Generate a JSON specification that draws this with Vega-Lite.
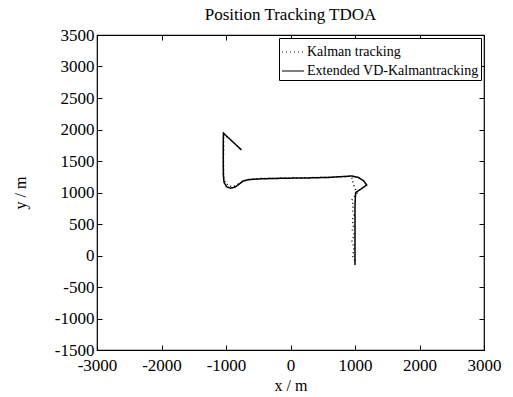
{
  "$schema": "https://vega.github.io/schema/vega-lite/v6.json",
  "autosize": {"type": "none"},
  "width": 387,
  "height": 315,
  "padding": {"left": 97, "top": 35, "right": 29, "bottom": 47},
  "background": "white",
  "config": {
    "font": "Liberation Serif",
    "view": {"stroke": "black", "strokeWidth": 1.2},
    "axis": {"grid": false, "domain": false, "tickColor": "black", "labelColor": "black", "titleColor": "black", "labelFont": "Liberation Serif", "titleFont": "Liberation Serif", "labelFontSize": 17, "titleFontSize": 16, "titleFontWeight": "normal", "tickSize": -5, "labelFlush": false, "labelExpr": "datum.value + ''"}
  },
  "title": {"text": "Position Tracking TDOA", "font": "Liberation Serif", "fontSize": 17, "fontWeight": "normal", "color": "black", "offset": 2},
  "data": {"values": [
    {"series": "Kalman  tracking", "o": 0, "x": -980, "y": 1880},
    {"series": "Kalman  tracking", "o": 1, "x": -1030, "y": 1930},
    {"series": "Kalman  tracking", "o": 2, "x": -1040, "y": 1850},
    {"series": "Kalman  tracking", "o": 3, "x": -1035, "y": 1700},
    {"series": "Kalman  tracking", "o": 4, "x": -1042, "y": 1550},
    {"series": "Kalman  tracking", "o": 5, "x": -1038, "y": 1400},
    {"series": "Kalman  tracking", "o": 6, "x": -1040, "y": 1300},
    {"series": "Kalman  tracking", "o": 7, "x": -1035, "y": 1210},
    {"series": "Kalman  tracking", "o": 8, "x": -1010, "y": 1150},
    {"series": "Kalman  tracking", "o": 9, "x": -950, "y": 1100},
    {"series": "Kalman  tracking", "o": 10, "x": -880, "y": 1095},
    {"series": "Kalman  tracking", "o": 11, "x": -800, "y": 1140},
    {"series": "Kalman  tracking", "o": 12, "x": -700, "y": 1190},
    {"series": "Kalman  tracking", "o": 13, "x": -600, "y": 1210},
    {"series": "Kalman  tracking", "o": 14, "x": -450, "y": 1225},
    {"series": "Kalman  tracking", "o": 15, "x": -300, "y": 1222},
    {"series": "Kalman  tracking", "o": 16, "x": -150, "y": 1230},
    {"series": "Kalman  tracking", "o": 17, "x": 0, "y": 1228},
    {"series": "Kalman  tracking", "o": 18, "x": 150, "y": 1232},
    {"series": "Kalman  tracking", "o": 19, "x": 300, "y": 1236},
    {"series": "Kalman  tracking", "o": 20, "x": 450, "y": 1238},
    {"series": "Kalman  tracking", "o": 21, "x": 600, "y": 1242},
    {"series": "Kalman  tracking", "o": 22, "x": 750, "y": 1250},
    {"series": "Kalman  tracking", "o": 23, "x": 850, "y": 1255},
    {"series": "Kalman  tracking", "o": 24, "x": 930, "y": 1260},
    {"series": "Kalman  tracking", "o": 25, "x": 960, "y": 1220},
    {"series": "Kalman  tracking", "o": 26, "x": 970, "y": 1150},
    {"series": "Kalman  tracking", "o": 27, "x": 990, "y": 1090},
    {"series": "Kalman  tracking", "o": 28, "x": 1030, "y": 990},
    {"series": "Kalman  tracking", "o": 29, "x": 950, "y": 880},
    {"series": "Kalman  tracking", "o": 30, "x": 975, "y": 800},
    {"series": "Kalman  tracking", "o": 31, "x": 960, "y": 720},
    {"series": "Kalman  tracking", "o": 32, "x": 985, "y": 640},
    {"series": "Kalman  tracking", "o": 33, "x": 955, "y": 560},
    {"series": "Kalman  tracking", "o": 34, "x": 980, "y": 480},
    {"series": "Kalman  tracking", "o": 35, "x": 960, "y": 400},
    {"series": "Kalman  tracking", "o": 36, "x": 990, "y": 320},
    {"series": "Kalman  tracking", "o": 37, "x": 950, "y": 240},
    {"series": "Kalman  tracking", "o": 38, "x": 975, "y": 160},
    {"series": "Kalman  tracking", "o": 39, "x": 985, "y": 80},
    {"series": "Kalman  tracking", "o": 40, "x": 960, "y": 0},
    {"series": "Kalman  tracking", "o": 41, "x": 990, "y": -60},
    {"series": "Kalman  tracking", "o": 42, "x": 1000, "y": -120},
    {"series": "Extended VD-Kalmantracking", "o": 0, "x": -760, "y": 1675},
    {"series": "Extended VD-Kalmantracking", "o": 1, "x": -900, "y": 1810},
    {"series": "Extended VD-Kalmantracking", "o": 2, "x": -1040, "y": 1940},
    {"series": "Extended VD-Kalmantracking", "o": 3, "x": -1042, "y": 1800},
    {"series": "Extended VD-Kalmantracking", "o": 4, "x": -1042, "y": 1600},
    {"series": "Extended VD-Kalmantracking", "o": 5, "x": -1042, "y": 1400},
    {"series": "Extended VD-Kalmantracking", "o": 6, "x": -1040, "y": 1270},
    {"series": "Extended VD-Kalmantracking", "o": 7, "x": -1030, "y": 1160},
    {"series": "Extended VD-Kalmantracking", "o": 8, "x": -990, "y": 1090},
    {"series": "Extended VD-Kalmantracking", "o": 9, "x": -930, "y": 1068},
    {"series": "Extended VD-Kalmantracking", "o": 10, "x": -860, "y": 1085},
    {"series": "Extended VD-Kalmantracking", "o": 11, "x": -800, "y": 1130},
    {"series": "Extended VD-Kalmantracking", "o": 12, "x": -740, "y": 1180},
    {"series": "Extended VD-Kalmantracking", "o": 13, "x": -650, "y": 1205},
    {"series": "Extended VD-Kalmantracking", "o": 14, "x": -500, "y": 1215},
    {"series": "Extended VD-Kalmantracking", "o": 15, "x": -300, "y": 1222},
    {"series": "Extended VD-Kalmantracking", "o": 16, "x": 0, "y": 1228},
    {"series": "Extended VD-Kalmantracking", "o": 17, "x": 300, "y": 1232},
    {"series": "Extended VD-Kalmantracking", "o": 18, "x": 600, "y": 1240},
    {"series": "Extended VD-Kalmantracking", "o": 19, "x": 850, "y": 1255},
    {"series": "Extended VD-Kalmantracking", "o": 20, "x": 950, "y": 1262},
    {"series": "Extended VD-Kalmantracking", "o": 21, "x": 1050, "y": 1240},
    {"series": "Extended VD-Kalmantracking", "o": 22, "x": 1130, "y": 1190},
    {"series": "Extended VD-Kalmantracking", "o": 23, "x": 1181, "y": 1119},
    {"series": "Extended VD-Kalmantracking", "o": 24, "x": 1100, "y": 1060},
    {"series": "Extended VD-Kalmantracking", "o": 25, "x": 1010, "y": 1000},
    {"series": "Extended VD-Kalmantracking", "o": 26, "x": 1000, "y": 800},
    {"series": "Extended VD-Kalmantracking", "o": 27, "x": 1000, "y": 500},
    {"series": "Extended VD-Kalmantracking", "o": 28, "x": 1000, "y": 200},
    {"series": "Extended VD-Kalmantracking", "o": 29, "x": 1000, "y": 0},
    {"series": "Extended VD-Kalmantracking", "o": 30, "x": 1000, "y": -150}
  ]},
  "layer": [
    {
      "mark": {"type": "line", "color": "black", "strokeWidth": 1.5},
      "encoding": {
        "x": {"field": "x", "type": "quantitative", "scale": {"domain": [-3000, 3000], "nice": false, "zero": false},
              "axis": {"orient": "bottom", "values": [-3000, -2000, -1000, 0, 1000, 2000, 3000], "title": "x / m", "labelPadding": 12, "titlePadding": 4}},
        "y": {"field": "y", "type": "quantitative", "scale": {"domain": [-1500, 3500], "nice": false, "zero": false},
              "axis": {"orient": "left", "values": [-1500, -1000, -500, 0, 500, 1000, 1500, 2000, 2500, 3000, 3500], "title": "y / m", "labelPadding": 8, "titlePadding": 26}},
        "order": {"field": "o", "type": "quantitative"},
        "detail": {"field": "series"},
        "strokeDash": {"field": "series", "type": "nominal",
          "scale": {"domain": ["Kalman  tracking", "Extended VD-Kalmantracking"], "range": [[1, 3], [1, 0]]},
          "legend": {"title": null, "orient": "top-right", "offset": 3, "strokeColor": "black", "fillColor": "white", "padding": 2, "labelFont": "Liberation Serif", "labelFontSize": 14, "labelColor": "black", "labelLimit": 0, "symbolType": "stroke", "symbolSize": 484, "symbolStrokeColor": "black", "symbolStrokeWidth": 1.2, "rowPadding": -7, "labelOffset": 2}}
      }
    },
    {
      "mark": {"type": "line", "opacity": 0},
      "encoding": {
        "x": {"field": "x", "type": "quantitative", "axis": {"orient": "top", "values": [-3000, -2000, -1000, 0, 1000, 2000, 3000], "labels": false, "title": null}},
        "y": {"field": "y", "type": "quantitative", "axis": {"orient": "right", "values": [-1500, -1000, -500, 0, 500, 1000, 1500, 2000, 2500, 3000, 3500], "labels": false, "title": null}}
      }
    }
  ],
  "resolve": {"axis": {"x": "independent", "y": "independent"}}
}
